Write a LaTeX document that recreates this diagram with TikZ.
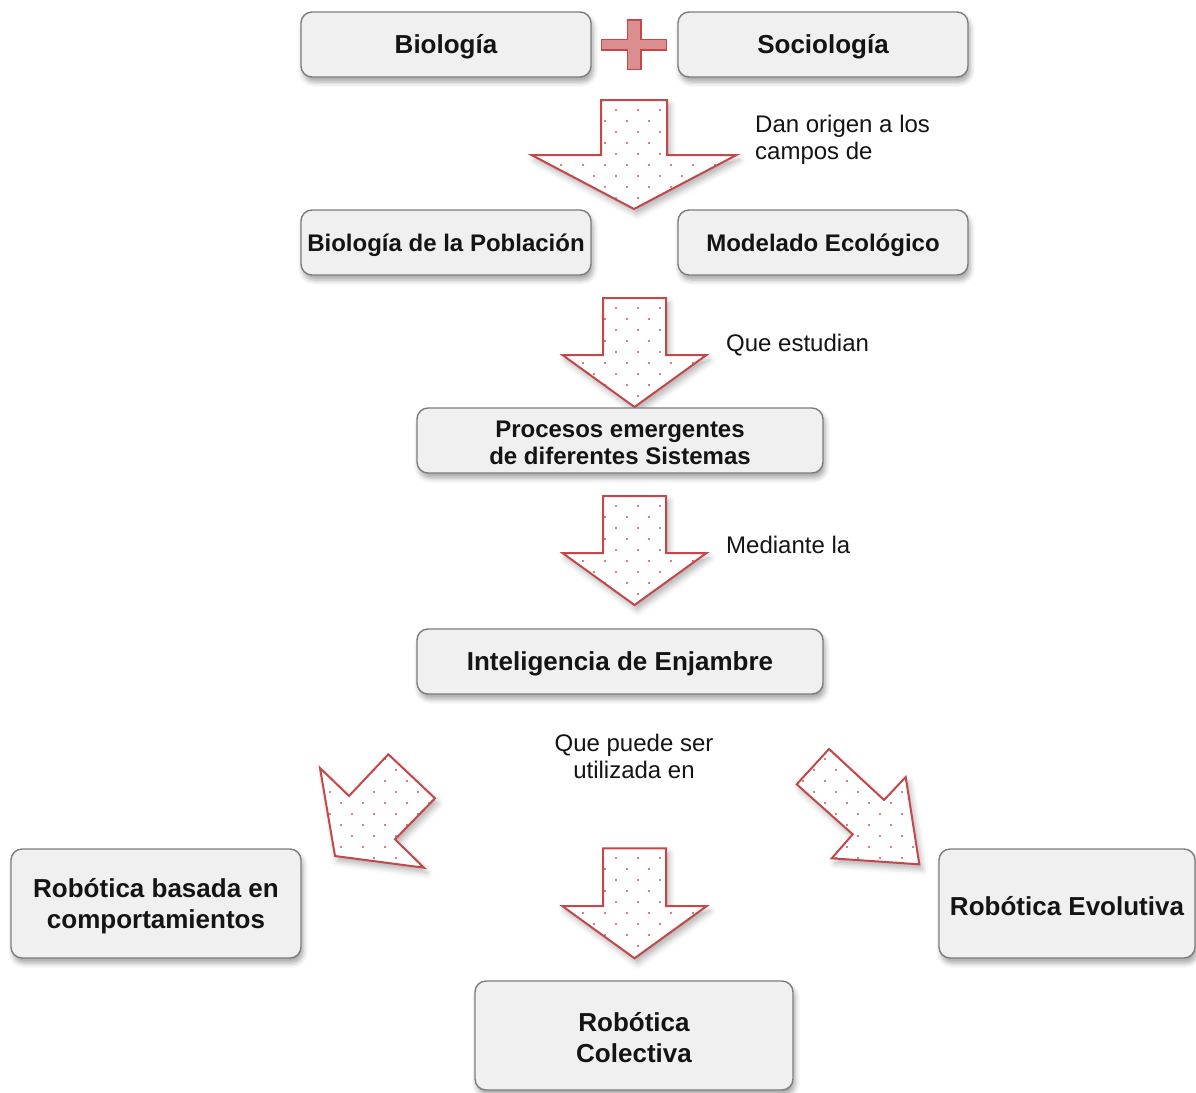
\documentclass[tikz,border=0pt]{standalone}
\usepackage{fontspec}
\setmainfont{Liberation Sans}
\usetikzlibrary{shadows.blur}

\definecolor{boxfill}{HTML}{F0F0F0}
\definecolor{boxline}{HTML}{7C7C7C}
\definecolor{arrowred}{HTML}{C4474A}
\definecolor{dotred}{HTML}{D68282}
\definecolor{plusfill}{HTML}{DB8E8E}
\definecolor{ink}{HTML}{141414}

\tikzset{
  box/.style={draw=boxline, line width=1.4pt, rounded corners=11pt, fill=boxfill, inner sep=0pt,
    blur shadow={shadow xshift=2pt, shadow yshift=-5pt, shadow blur radius=5pt, shadow opacity=35}},
  boxtext/.style={text=ink, font=\bfseries\fontsize{26}{31}\selectfont, align=center, inner sep=0pt},
  smalltext/.style={boxtext, font=\bfseries\fontsize{24}{27}\selectfont},
  arrowbase/.style={fill=white,
    blur shadow={shadow xshift=3pt, shadow yshift=-5pt, shadow blur radius=6pt, shadow opacity=30}},
  arrowline/.style={draw=arrowred, line width=2pt, line join=miter},
  dot/.style={fill=dotred},
  note/.style={text=ink, font=\fontsize{24}{27}\selectfont, inner sep=0pt},
}

% staggered grid of small square dots covering a box (xmin, xmax, ymin, ymax)
\newcommand\dotsbox[4]{%
  \pgfmathtruncatemacro\dia{(#1)/22-1}\pgfmathtruncatemacro\dib{(#2)/22+1}%
  \pgfmathtruncatemacro\dja{(#3)/22-1}\pgfmathtruncatemacro\djb{(#4)/22+1}%
  \foreach \i in {\dia,...,\dib}{\foreach \j in {\dja,...,\djb}{
    \path[dot] (22*\i-1.4,22*\j-1.4) rectangle ++(2.8,2.8);
    \path[dot] (22*\i+9.6,22*\j+9.6) rectangle ++(2.8,2.8);}}}

% dotted block arrow from the outline kept in \bpath
\newcommand\drawblock[4]{%
  \path[arrowbase] \bpath;
  \begin{scope}\clip \bpath; \dotsbox{#1}{#2}{#3}{#4}\end{scope}
  \path[arrowline] \bpath;}

% downward block arrow: centre x, shaft half width, top, head top, head half width, tip
\newcommand\downblock[6]{%
  \def\bpath{(#1-#2,#3) -- (#1+#2,#3) -- (#1+#2,#4) -- (#1+#5,#4) -- (#1,#6)
    -- (#1-#5,#4) -- (#1-#2,#4) -- cycle}%
  \drawblock{#1-#5}{#1+#5}{#3}{#6}}

% rounded box with its caption set slightly below the geometric centre
\newcommand\labelbox[7]{% name, x, y, width, height, text style, text
  \node[box, minimum width=#4pt, minimum height=#5pt] (#1) at (#2,#3) {};
  \node[#6] (#1-text) at ([yshift=-2.5pt]#1.center) {#7};}

\begin{document}
\begin{tikzpicture}[x=1pt,y=-1pt]
  \useasboundingbox (0,0) rectangle (1196,1092);

  % top row
  \labelbox{bio}{446}{44.5}{290}{65}{boxtext}{Biología}
  \labelbox{soc}{823}{44.5}{290}{65}{boxtext}{Sociología}
  \path[draw=arrowred, line width=1.2pt, fill=plusfill]
    (601.7,39.3) -- (627.7,39.3) -- (627.7,20) -- (641,20) -- (641,39.3) -- (666.7,39.3)
    -- (666.7,50) -- (641,50) -- (641,69.3) -- (627.7,69.3) -- (627.7,50) -- (601.7,50) -- cycle;

  % first arrow
  \downblock{634}{33}{100}{155}{102.5}{209}
  \node[note, anchor=west, align=left] (lbl1) at (755,140) {Dan origen a los\\campos de};

  % second row
  \labelbox{pob}{446}{242.5}{290}{65}{smalltext}{Biología de la Población}
  \labelbox{eco}{823}{242.5}{290}{65}{smalltext}{Modelado Ecológico}

  \downblock{634.5}{31.5}{298}{355}{72}{407}
  \node[note, anchor=west] (lbl2) at (726,345.5) {Que estudian};

  \labelbox{proc}{620}{440.5}{406}{65}{smalltext}{Procesos emergentes\\de diferentes Sistemas}

  \downblock{634.5}{31.5}{496}{553}{72}{605}
  \node[note, anchor=west] (lbl3) at (726,544.5) {Mediante la};

  \labelbox{swarm}{620}{661.5}{406}{65}{boxtext}{Inteligencia de Enjambre}

  \node[note, align=center] (lbl4) at (634,756.5) {Que puede ser\\utilizada en};

  % diagonal arrows
  \def\bpath{(320,768) -- (349,796) -- (388.3,754.3) -- (435,798.3) -- (395,839.3)
    -- (424,867.7) -- (335,856) -- cycle}
  \drawblock{320}{435}{754}{868}
  \def\bpath{(829,749) -- (884,800) -- (905.7,777) -- (919.3,864.3) -- (831.7,858.3)
    -- (852.7,834.3) -- (796.7,784.3) -- cycle}
  \drawblock{796}{920}{749}{865}
  \downblock{634.5}{31.5}{848.3}{906}{72.3}{958.3}

  % bottom row
  \labelbox{comp}{156}{903.5}{290}{109}{boxtext}{Robótica basada en\\comportamientos}
  \labelbox{evo}{1067}{903.5}{256}{109}{boxtext}{Robótica Evolutiva}
  \labelbox{col}{634}{1035.5}{318}{109}{boxtext}{Robótica\\Colectiva}
\end{tikzpicture}
\end{document}
